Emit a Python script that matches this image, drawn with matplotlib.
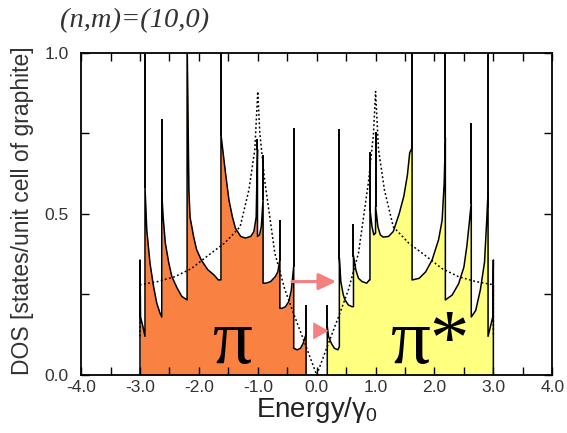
import matplotlib.pyplot as plt

plt.rcParams['font.family'] = ['Liberation Sans', 'DejaVu Sans']
plt.rcParams['mathtext.fontset'] = 'custom'
plt.rcParams['mathtext.rm'] = 'Liberation Sans'
plt.rcParams['mathtext.it'] = 'Liberation Sans:italic'

# valence band (pi), energy / DOS
e_pi = [-3.0, -3.0, -2.99, -2.95, -2.915, -2.915, -2.885, -2.83, -2.77, -2.715, -2.66,
        -2.63, -2.63, -2.607, -2.57, -2.51, -2.46, -2.37, -2.29, -2.20, -2.20, -2.17,
        -2.15, -2.09, -2.04, -1.96, -1.85, -1.74, -1.67, -1.625, -1.625, -1.548, -1.49,
        -1.43, -1.38, -1.29, -1.21, -1.12, -1.066, -1.027, -1.005, -1.005, -0.97, -0.94,
        -0.91, -0.91, -0.86, -0.78, -0.70, -0.66, -0.625, -0.625, -0.585, -0.53, -0.473,
        -0.43, -0.39, -0.39, -0.331, -0.274, -0.23, -0.20, -0.18, -0.18]
dos_pi = [0.0, 0.357, 0.18, 0.15, 0.12, 0.585, 0.45, 0.347, 0.275, 0.223, 0.192,
          0.18, 0.565, 0.49, 0.41, 0.347, 0.306, 0.27, 0.244, 0.233, 1.05, 0.575,
          0.49, 0.43, 0.39, 0.357, 0.327, 0.31, 0.295, 0.295, 0.746, 0.627, 0.544,
          0.49, 0.456, 0.43, 0.425, 0.43, 0.445, 0.49, 0.70, 0.43, 0.435, 0.46,
          0.545, 0.285, 0.285, 0.29, 0.306, 0.32, 0.357, 0.207, 0.207, 0.212, 0.228,
          0.264, 0.337, 0.083, 0.078, 0.083, 0.098, 0.115, 0.128, 0.0]

# conduction band (pi*)
e_pis = [0.18, 0.18, 0.20, 0.25, 0.30, 0.36, 0.385, 0.385, 0.41, 0.45, 0.48, 0.54,
         0.60, 0.625, 0.625, 0.665, 0.71, 0.77, 0.85, 0.895, 0.905, 0.905, 0.94, 0.97,
         0.995, 1.0, 1.0, 1.04, 1.08, 1.13, 1.22, 1.30, 1.40, 1.48, 1.54, 1.58, 1.62,
         1.62, 1.74, 1.85, 1.96, 2.07, 2.13, 2.165, 2.185, 2.185, 2.30, 2.41, 2.50,
         2.55, 2.59, 2.625, 2.625, 2.70, 2.78, 2.85, 2.89, 2.91, 2.91, 2.95, 2.99,
         3.0, 3.0]
dos_pis = [0.0, 0.15, 0.12, 0.098, 0.083, 0.078, 0.088, 0.363, 0.29, 0.25, 0.233, 0.217,
           0.212, 0.212, 0.37, 0.326, 0.30, 0.29, 0.285, 0.295, 0.295, 0.513, 0.46, 0.435,
           0.44, 0.44, 0.523, 0.46, 0.435, 0.428, 0.43, 0.445, 0.50, 0.555, 0.62, 0.69, 0.705,
           0.295, 0.30, 0.32, 0.357, 0.42, 0.48, 0.596, 0.736, 0.233, 0.248, 0.283, 0.335,
           0.40, 0.47, 0.535, 0.18, 0.20, 0.265, 0.35, 0.49, 0.57, 0.12, 0.15, 0.18,
           0.357, 0.0]

# thin van Hove spikes that rise above the filled area
spike_e = [-2.915, -2.63, -2.20, -1.625, -1.005, -0.91, -0.625, -0.39, -0.18,
           0.18, 0.385, 0.625, 0.905, 1.0, 1.62, 2.185, 2.625, 2.91]
spike_top = [1.05, 0.793, 1.05, 1.05, 0.73, 0.68, 0.477, 0.762, 0.213,
             0.214, 0.76, 0.466, 0.69, 0.75, 1.05, 1.05, 0.78, 1.05]

# graphite DOS (dotted)
e_gr = [-3.0, -3.0, -2.70, -2.41, -2.13, -1.85, -1.56, -1.30, -1.15, -1.05, -1.0, -0.965,
        -0.88, -0.71, -0.54, -0.37, -0.2, 0.0, 0.2, 0.37, 0.54, 0.71, 0.88, 0.965, 1.0,
        1.05, 1.15, 1.30, 1.56, 1.85, 2.13, 2.41, 2.70, 3.0, 3.0]
dos_gr = [0.12, 0.28, 0.29, 0.305, 0.33, 0.37, 0.41, 0.46, 0.575, 0.70, 0.88, 0.75,
          0.60, 0.378, 0.265, 0.18, 0.098, 0.0, 0.098, 0.18, 0.265, 0.378, 0.60, 0.75, 0.88,
          0.70, 0.575, 0.46, 0.41, 0.37, 0.33, 0.305, 0.29, 0.28, 0.12]

fig = plt.figure(figsize=(5.67, 4.33), dpi=100)
ax = fig.add_axes([0.143, 0.134, 0.831, 0.744])

# spike starts at the highest curve value at that energy
def base_of(e):
    src_e, src_d = (e_pi, dos_pi) if e < 0 else (e_pis, dos_pis)
    vals = [d for x, d in zip(src_e, src_d) if abs(x - e) < 1e-9]
    return max(vals)

ax.fill_between(e_pi, dos_pi, color='#F98142', lw=0)
ax.fill_between(e_pis, dos_pis, color='#FFFF80', lw=0)
ax.plot(e_gr, dos_gr, color='black', ls=(0, (1.2, 1.6)), lw=1.1)
ax.plot(e_pi, dos_pi, color='black', lw=1.1)
ax.plot(e_pis, dos_pis, color='black', lw=1.1)
for e, top in zip(spike_e, spike_top):
    ax.plot([e, e], [base_of(e), top], color='black', lw=1.4)

# arrows
ax.annotate('', xy=(0.33, 0.29), xytext=(-0.42, 0.29),
            arrowprops=dict(arrowstyle='-|>,head_length=1.05,head_width=0.5',
                            color='#F58080', lw=2.2, shrinkA=0, shrinkB=0))
ax.annotate('', xy=(0.20, 0.137), xytext=(-0.05, 0.137),
            arrowprops=dict(arrowstyle='-|>,head_length=1.1,head_width=0.62',
                            color='#F58080', lw=0, shrinkA=0, shrinkB=0))

ax.text(-1.42, 0.037, 'π', fontsize=57, family='Liberation Serif', ha='center', va='baseline')
ax.text(1.93, 0.037, 'π*', fontsize=57, family='Liberation Serif', ha='center', va='baseline')

ax.set_xlim(-4, 4)
ax.set_ylim(0, 1.0)
ax.set_xticks([-4, -3, -2, -1, 0, 1, 2, 3, 4])
ax.set_xticklabels(['-4.0', '-3.0', '-2.0', '-1.0', '0.0', '1.0', '2.0', '3.0', '4.0'])
ax.set_xticks([-3.5, -2.5, -1.5, -0.5, 0.5, 1.5, 2.5, 3.5], minor=True)
ax.set_yticks([0, 0.5, 1.0])
ax.set_yticklabels(['0.0', '0.5', '1.0'])
ax.set_yticks([0.25, 0.75], minor=True)
ax.tick_params(which='both', direction='in', top=True, right=True, labelsize=12.5,
               labelcolor='#333333', width=1.0, length=6)
ax.tick_params(axis='y', pad=9)
for s in ax.spines.values():
    s.set_linewidth(1.3)

ax.set_xlabel('Energy/γ$_0$', fontsize=20, color='#222222', labelpad=0)
ax.set_ylabel('DOS [states/unit cell of graphite]', fontsize=16.5, color='#333333')
ax.yaxis.set_label_coords(-0.10, 0.51)

fig.text(0.106, 0.953, '(n,m)=(10,0)', fontsize=20.5, family='Liberation Serif',
         style='italic', color='#333333', va='center')

plt.savefig('out.png')
